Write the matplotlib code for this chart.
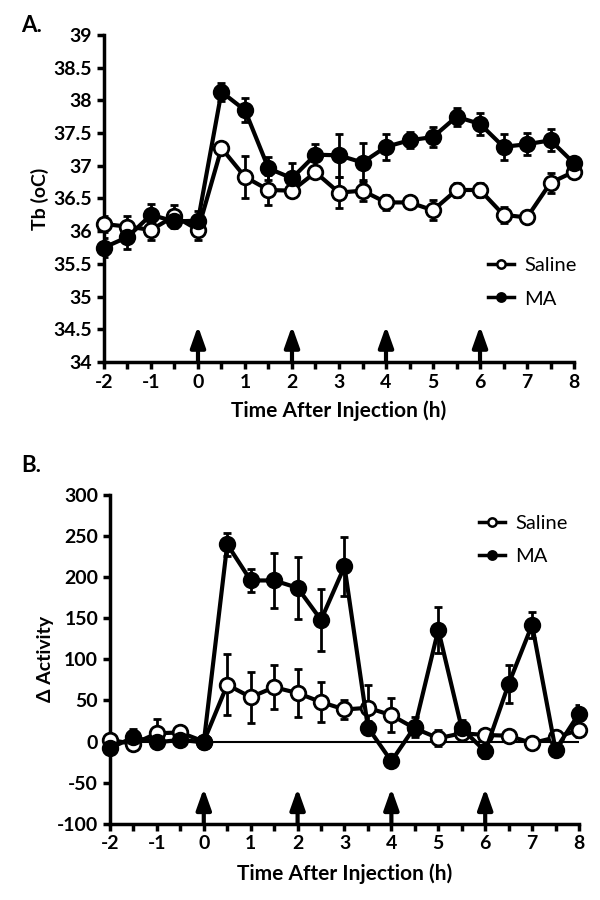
import matplotlib
matplotlib.use("Agg")
import matplotlib.pyplot as plt
from matplotlib.lines import Line2D

plt.rcParams['font.family'] = ['Lato', 'DejaVu Sans']

# ---------------- data ----------------
time_h = [-2, -1.5, -1, -0.5, 0, 0.5, 1, 1.5, 2, 2.5, 3, 3.5, 4, 4.5, 5, 5.5, 6, 6.5, 7, 7.5, 8]
injections = [0, 2, 4, 6]
x_ticks = [-2, -1, 0, 1, 2, 3, 4, 5, 6, 7, 8]

saline_tb = [36.11, 36.07, 36.02, 36.23, 36.02, 37.27, 36.83, 36.63, 36.62, 36.90, 36.59,
             36.62, 36.44, 36.44, 36.32, 36.63, 36.63, 36.25, 36.21, 36.74, 36.91]
saline_tb_err = [0.12, 0.16, 0.16, 0.17, 0.15, 0.05, 0.32, 0.23, 0.04, 0.05, 0.24,
                 0.16, 0.12, 0.05, 0.15, 0.10, 0.10, 0.12, 0.05, 0.15, 0.10]
ma_tb = [35.75, 35.91, 36.25, 36.15, 36.16, 38.13, 37.85, 36.96, 36.81, 37.17, 37.16,
         37.05, 37.29, 37.39, 37.44, 37.75, 37.64, 37.29, 37.33, 37.39, 37.04]
ma_tb_err = [0.15, 0.18, 0.17, 0.10, 0.15, 0.14, 0.18, 0.18, 0.23, 0.17, 0.33,
             0.30, 0.20, 0.12, 0.16, 0.14, 0.17, 0.20, 0.17, 0.17, 0.10]

saline_act = [2, -3, 10, 11, 0, 69, 54, 66, 59, 48, 39, 41, 32, 16, 4, 10, 8, 7, -2, 5, 14]
saline_act_err = [5, 5, 18, 8, 5, 37, 31, 27, 29, 24, 12, 28, 21, 8, 10, 8, 5, 5, 5, 5, 8]
ma_act = [-8, 5, -1, 2, -1, 240, 196, 196, 187, 148, 213, 17, -24, 18, 136, 16, -12, 70, 142, -10, 34]
ma_act_err = [5, 10, 5, 5, 5, 14, 14, 33, 38, 38, 36, 8, 5, 12, 28, 10, 8, 23, 16, 5, 10]

# ---------------- figure ----------------
fig = plt.figure(figsize=(6, 9), dpi=100)
axA = fig.add_axes([0.1733, 0.5978, 0.7834, 0.3633])
axB = fig.add_axes([0.1833, 0.0848, 0.7817, 0.3652])

TICKFONT = dict(fontsize=14, fontweight='bold')


def plot_series(ax, y, err, filled):
    face = 'black' if filled else 'white'
    ax.errorbar(time_h, y, yerr=err, fmt='none', ecolor='black', elinewidth=2,
                capsize=3, capthick=2, zorder=2)
    ax.plot(time_h, y, color='black', lw=3, marker='o', ms=10.5,
            mfc=face, mec='black', mew=2, zorder=3, clip_on=False)


def style(ax, ylim, yticks, xlabelpad):
    ax.set_xlim(-2, 8)
    ax.set_ylim(*ylim)
    for s in ['top', 'right']:
        ax.spines[s].set_visible(False)
    for s in ['left', 'bottom']:
        ax.spines[s].set_linewidth(2.5)
    ax.set_xticks(x_ticks)
    ax.set_xticks([t for t in time_h], minor=True)
    ax.set_yticks(yticks)
    ax.tick_params(axis='both', which='both', direction='out', width=2.5, length=5)
    ax.tick_params(axis='x', which='minor', labelbottom=False)
    ax.set_xticklabels([str(t) for t in x_ticks], **TICKFONT)
    ax.set_yticklabels([('%g' % v) for v in yticks], **TICKFONT)
    ax.set_xlabel('Time After Injection (h)', fontsize=15, fontweight='bold',
                  labelpad=xlabelpad)


def arrows(ax, base, tip):
    for x in injections:
        ax.annotate('', xy=(x, tip), xytext=(x, base),
                    arrowprops=dict(arrowstyle='-|>,head_length=0.9,head_width=0.32',
                                    lw=3, color='black', shrinkA=0, shrinkB=0,
                                    mutation_scale=14),
                    zorder=1)


def legend(ax, anchor):
    handles = [Line2D([], [], color='black', lw=2.5, marker='o', ms=6, mfc='white',
                      mec='black', mew=1.8),
               Line2D([], [], color='black', lw=2.5, marker='o', ms=6, mfc='black',
                      mec='black', mew=1.8)]
    ax.legend(handles, ['Saline', 'MA'], loc='upper left', bbox_to_anchor=anchor,
              frameon=False, fontsize=14.5, handlelength=1.3, handletextpad=0.5,
              labelspacing=0.8, borderaxespad=0)


# Panel A
plot_series(axA, saline_tb, saline_tb_err, False)
plot_series(axA, ma_tb, ma_tb_err, True)
style(axA, (34, 39), [34, 34.5, 35, 35.5, 36, 36.5, 37, 37.5, 38, 38.5, 39], 7)
axA.set_ylabel('Tb (oC)', fontsize=14, fontweight='bold', labelpad=3)
arrows(axA, 34, 34.55)
legend(axA, (0.8, 0.345))
fig.text(0.035, 0.972, 'A.', fontsize=16, fontweight='bold', va='center')

# Panel B
axB.axhline(0, color='black', lw=1.5, zorder=1)
plot_series(axB, saline_act, saline_act_err, False)
plot_series(axB, ma_act, ma_act_err, True)
style(axB, (-100, 300), [-100, -50, 0, 50, 100, 150, 200, 250, 300], 8)
axB.set_ylabel('\u0394 Activity', fontsize=14, fontweight='bold', labelpad=2)
arrows(axB, -100, -57)
legend(axB, (0.77, 0.965))
fig.text(0.035, 0.483, 'B.', fontsize=16, fontweight='bold', va='center')

fig.savefig('out.png', dpi=100)
